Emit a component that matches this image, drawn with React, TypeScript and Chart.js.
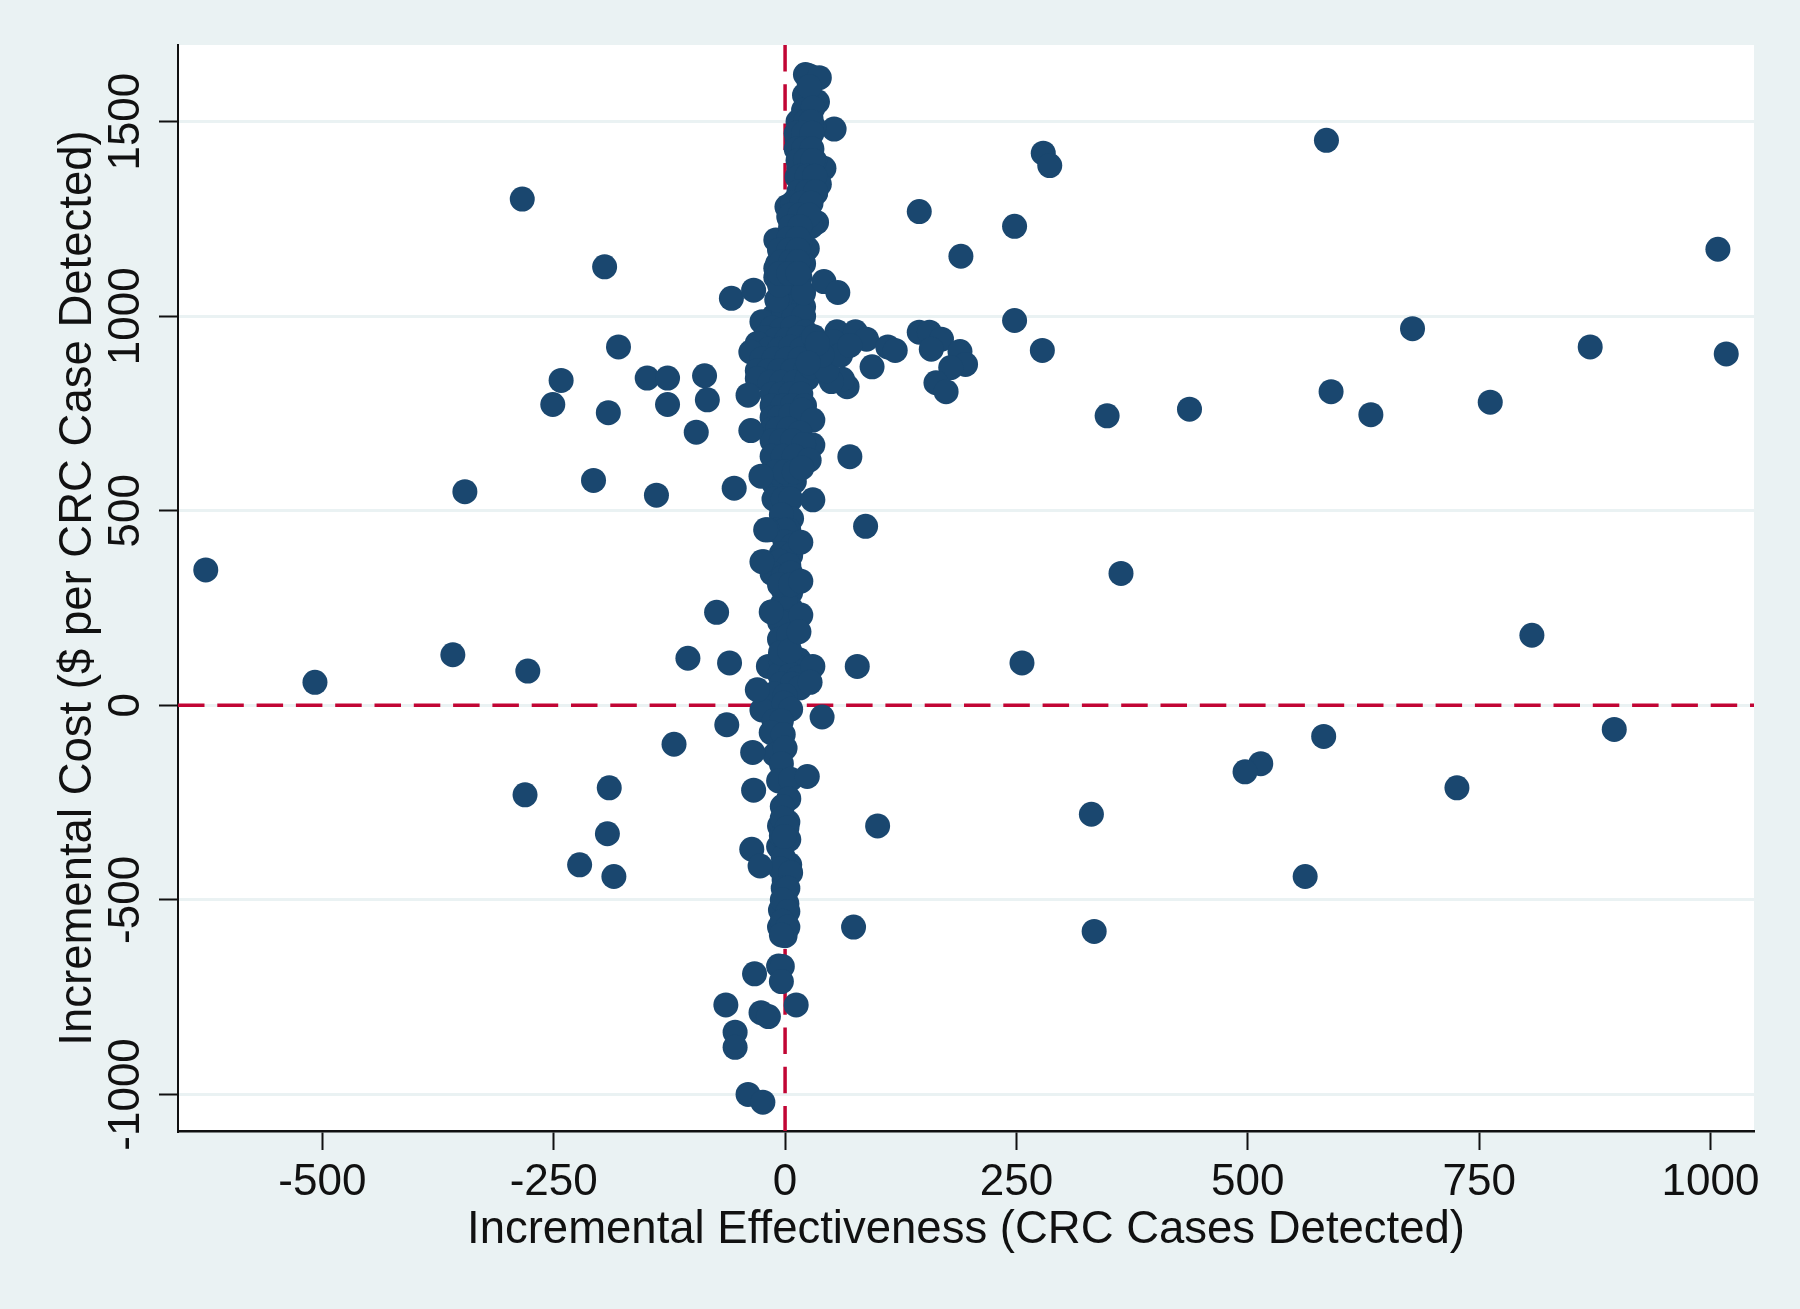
import React, { useEffect, useRef } from "react";
import { Chart, registerables } from "chart.js";

Chart.register(...registerables);

const xTickValues = [-500, -250, 0, 250, 500, 750, 1000];
const yTickValues = [-1000, -500, 0, 500, 1000, 1500];
const xAxisTitle = "Incremental Effectiveness (CRC Cases Detected)";
const yAxisTitle = "Incremental Cost ($ per CRC Case Detected)";

const outerLeftX = [-626, -508, -359, -346, -284, -278, -281, -251, -242, -222, -207, -195, -191, -192, -190, -185, -180, -149, -127, -127, -139, -120, -105, -96, -87, -84, -74, -64, -63, -60, -58, -55, -54, -54, -40, -24, -26, -18, -33, -36, -27, -34, -35, -34, -40, -37, -26, -21, -25, -15, -30];
const outerLeftY = [348, 59, 130, 549, 1301, 88, -230, 773, 835, -410, 578, 1127, 752, -330, -212, -440, 921, 841, 841, 773, 540, -100, 121, 702, 847, 785, 239, -770, -50, 109, 1046, 558, -840, -879, -1000, -1020, -790, -800, -690, -370, -413, -218, -121, 1067, 797, 706, 589, 451, 369, 240, 40];

const outerRightX = [12, 24, 40, 74, 100, 331, 334, 78, 87, 70, 30, 17, 17, 17, 15, 30, 27, 256, 363, 348, 437, 278, 248, 248, 145, 190, 279, 286, 585, 678, 590, 633, 762, 870, 1017, 1008, 807, 896, 582, 514, 497, 726, 562];
const outerRightY = [-770, -183, -30, -570, -310, -280, -581, 100, 460, 639, 528, 419, 319, 232, 189, 100, 59, 109, 339, 744, 761, 912, 989, 1231, 1269, 1154, 1419, 1387, 1452, 968, 806, 747, 779, 921, 903, 1172, 180, -62, -80, -150, -171, -212, -440];

const wingX = [56, 76, 88, 111, 119, 145, 156, 169, 189, 158, 195, 179, 163, 174, 94, 67, 62, 50, 56, 31, 42, 57, 40, 48, 36, 28, 45, 52, 60, 70, 40, 35, 25];
const wingY = [960, 960, 941, 921, 912, 959, 959, 941, 909, 915, 876, 868, 829, 806, 870, 819, 838, 832, 912, 947, 1089, 1061, 920, 890, 905, 870, 860, 935, 900, 925, 900, 930, 880];

const spineTopX = [22, 26, 37, 21, 35, 20, 28, 53, 31, 13, 26, 20, 15, 42, 32, 37, 13, 25, 33, 24, 2, 12, 34, 4, 18, 28, -10, 13, 24, 6, 16, -8, -10, 20, 8, 26, 30, 14, 22, 28, 12, 20, 29, 12, 20, 29, 14, 22, 30, 16, 24, 32, 15, 24, 33, 8, 18, 28, 6, 16, 26, 6, 16, 4, 14, -6, 4, 14, -4, 6, 14, -6, 4, 14];
const spineTopY = [1621, 1618, 1613, 1568, 1551, 1530, 1510, 1481, 1486, 1453, 1444, 1415, 1380, 1380, 1400, 1339, 1358, 1340, 1316, 1298, 1281, 1300, 1241, 1255, 1270, 1230, 1196, 1204, 1174, 1220, 1190, 1135, 1123, 1135, 1160, 1590, 1535, 1500, 1500, 1500, 1470, 1470, 1470, 1430, 1430, 1430, 1400, 1400, 1400, 1360, 1360, 1360, 1320, 1320, 1320, 1290, 1290, 1290, 1260, 1260, 1260, 1230, 1230, 1200, 1200, 1170, 1170, 1170, 1140, 1140, 1140, 1110, 1110, 1110];

const spineCoreX = [-2, 6, 14, -4, 8, 18, -6, 4, 14, 20, -12, -2, 10, 20, -25, -14, -4, 8, 22, -22, -10, 2, 14, 26, -30, -18, -6, 6, 18, 30, -37, -25, -12, 2, 16, 30, -30, -18, -6, 8, 22, -30, -16, -4, 10, 24, -14, -4, 6, 17, -14, -2, 8, 21, -14, -6, 6, 18, 30, -14, -8, 4, 16, 30, -14, -4, 8, 20, -14, -2, 10, 26, -10, 0, 10, 18, -10, 16, -9, 20, -6];
const spineCoreY = [1095, 1100, 1080, 1060, 1055, 1045, 1020, 1025, 1030, 1024, 1000, 1000, 1000, 1000, 986, 970, 965, 970, 960, 945, 940, 940, 945, 930, 930, 915, 915, 920, 915, 900, 908, 890, 890, 890, 890, 870, 860, 860, 860, 860, 860, 840, 830, 830, 830, 840, 800, 800, 800, 800, 770, 770, 770, 770, 740, 740, 745, 759, 733, 710, 710, 710, 700, 669, 680, 680, 680, 670, 640, 640, 640, 630, 600, 600, 600, 610, 1100, 1100, 1042, 1060, 1080];

const spineLowX = [-12, 0, 10, -12, -2, 6, 7, -4, 4, -10, 0, -19, 0, 8, -4, 6, -23, -6, 4, -14, -2, 6, -2, 6, -14, -3, 6, -2, 6, -3, 4, -2, -18, -4, 6, 15, 18, -6, 6, 14, -4, 8, 16, -12, 0, -25, -1, 6, -12, -4, -15, -2, -11, 0, -4, -7, 6, 4, -3, -3, 2, -1, 0, -6, 6, 2, -6, -6, 4, -5, 5];
const spineLowY = [570, 570, 575, 530, 530, 530, 480, 490, 450, 450, 450, 451, 420, 410, 390, 385, 369, 370, 360, 339, 330, 340, 297, 290, 240, 260, 250, 194, 210, 151, 165, 125, 100, 110, 120, 117, 95, 80, 80, 70, 55, 55, 45, 30, 25, -12, 5, -10, -40, -40, -70, -75, -127, -110, -150, -194, -190, -240, -260, -290, -315, -337, 270, 310, 310, 215, 215, 170, 180, 135, 140];

const spineBottomX = [-1, -7, 5, -1, 0, 2, -1, -5, 0, -6, 0, -7, -3, -4, -6, 3, -4, 4, -2, -5, 6, -2, 3, -3, 3, -3, 3, -4];
const spineBottomY = [-337, -363, -410, -449, -487, -510, -515, -526, -547, -570, -592, -670, -671, -710, -310, -300, -335, -345, -390, -420, -430, -470, -470, -500, -530, -555, -570, -590];

const allX = [...spineBottomX, ...spineLowX, ...spineCoreX, ...spineTopX, ...wingX, ...outerLeftX, ...outerRightX];
const allY = [...spineBottomY, ...spineLowY, ...spineCoreY, ...spineTopY, ...wingY, ...outerLeftY, ...outerRightY];

const X_MIN = -656;
const X_MAX = 1047;
const Y_MIN = -1094;
const Y_MAX = 1697;

const PAGE_BG = "#eaf2f3";
const MARK = "#1a476f";
const RED = "#c10534";
const FONT = "'Liberation Sans', Arial, sans-serif";

export default function App() {
  const ref = useRef<HTMLCanvasElement | null>(null);
  useEffect(() => {
    const canvas = ref.current;
    if (!canvas) return;
    const refStyle = {
      type: "line" as const,
      borderColor: RED,
      borderWidth: 3.5,
      borderDash: [26.5, 12.8],
      pointRadius: 0,
      showLine: true,
      fill: false,
      order: 2,
    };
    const chart = new Chart(canvas, {
      type: "scatter",
      data: {
        datasets: [
          {
            label: "ICER",
            data: allX.map((x, i) => ({ x, y: allY[i] })),
            backgroundColor: MARK,
            borderColor: MARK,
            pointRadius: 12.5,
            pointBorderWidth: 0,
            order: 1,
          },
          { ...refStyle, label: "x0", data: [{ x: 0, y: Y_MAX }, { x: 0, y: Y_MIN }] },
          { ...refStyle, label: "y0", data: [{ x: X_MIN, y: 0 }, { x: X_MAX, y: 0 }] },
        ],
      },
      options: {
        responsive: false,
        animation: false,
        devicePixelRatio: 1,
        layout: { padding: { left: 0, right: 46, top: 45, bottom: 0 } },
        plugins: { legend: { display: false }, tooltip: { enabled: false } },
        scales: {
          x: {
            type: "linear",
            min: X_MIN,
            max: X_MAX,
            afterBuildTicks: (s: any) => { s.ticks = xTickValues.map((value) => ({ value })); },
            afterFit: (s: any) => { s.height = 178; },
            grid: { drawOnChartArea: false, drawTicks: true, tickLength: 19, tickColor: "#111", tickWidth: 2 },
            border: { display: true, color: "#111", width: 2.5 },
            ticks: { color: "#111", font: { family: FONT, size: 44 }, padding: 6, maxRotation: 0, minRotation: 0, autoSkip: false, callback: (v: any) => String(v) },
            title: { display: true, text: xAxisTitle, color: "#111", font: { family: FONT, size: 45.5 }, padding: { top: 0, bottom: 51 } },
          },
          y: {
            type: "linear",
            min: Y_MIN,
            max: Y_MAX,
            afterBuildTicks: (s: any) => { s.ticks = yTickValues.map((value) => ({ value })); },
            afterFit: (s: any) => { s.width = 178; },
            grid: { color: PAGE_BG, lineWidth: 3, drawTicks: true, tickLength: 19, tickColor: "#111", tickWidth: 2 },
            border: { display: true, color: "#111", width: 2 },
            ticks: { color: "#111", font: { family: FONT, size: 44 }, padding: -24, crossAlign: "center", minRotation: 90, maxRotation: 90, autoSkip: false, callback: (v: any) => String(v) },
            title: { display: true, text: yAxisTitle, color: "#111", font: { family: FONT, size: 45.5 }, padding: { top: 51, bottom: 0 } },
          },
        },
      },
      plugins: [
        {
          id: "panelBackground",
          beforeDraw(c: any) {
            const { ctx, chartArea: a, width, height } = c;
            ctx.save();
            ctx.fillStyle = PAGE_BG;
            ctx.fillRect(0, 0, width, height);
            ctx.fillStyle = "#ffffff";
            ctx.fillRect(a.left, a.top, a.right - a.left, a.bottom - a.top);
            ctx.restore();
          },
        },
      ],
    } as any);
    return () => chart.destroy();
  }, []);
  return (
    <div style={{ position: "absolute", left: 0, top: 0, width: 1800, height: 1309 }}>
      <canvas ref={ref} width={1800} height={1309} style={{ display: "block" }} />
    </div>
  );
}
